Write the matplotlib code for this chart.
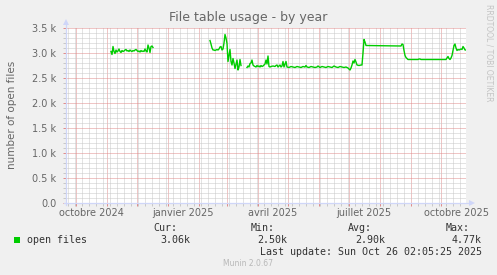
import numpy as np
import pandas as pd
import matplotlib
matplotlib.use("Agg")
import matplotlib.pyplot as plt
import matplotlib.dates as mdates
from matplotlib.ticker import MultipleLocator, FuncFormatter
from matplotlib.patches import Rectangle

# ---------------- data ----------------
start_date = "2024-09-21"
end_date = "2025-10-26"

# day offsets from start_date and open-file counts (thousands); NaN = no data
day_offsets = [
    45, 46, 47, 48, 49, 50, 51, 52, 53, 54, 55, 56, 57, 58, 59, 60, 61, 62, 63, 64,
    65, 66, 67, 68, 69, 70, 71, 72, 73, 74, 75, 76, 77, 78, 79, 80, 81, 82, 83, 84,
    85, 86, 87,
    100,
    144, 145, 146, 147, 148, 149, 150, 151, 152, 153, 154, 155, 156, 157, 158, 159,
    160, 161, 162, 163, 164, 165, 166, 167, 168, 169, 170, 171, 172, 173, 174, 175,
    178,
    181, 182, 183, 184, 185, 186, 187, 188, 189, 190, 191, 192, 193, 194, 195, 196,
    197, 198, 199, 200, 201, 202, 203, 204, 205, 207, 209, 210, 211, 212, 213, 214,
    215, 216, 217, 218, 219, 220, 221, 223, 225, 227, 229, 231, 233, 235, 237, 239,
    240, 241, 243, 245, 247, 249, 251, 252, 254, 256, 258, 260, 262, 264, 266, 268,
    270, 272, 274, 276, 278, 280, 281, 282, 283, 284, 285, 286, 287, 288, 289, 290,
    291, 293, 295, 296, 297, 298, 299, 300, 335, 336, 337, 338, 339, 340, 341, 342,
    352, 353, 354, 355, 356, 380, 381, 382, 383, 384, 385, 386, 387, 388, 389, 390,
    391, 392, 393, 394, 395, 396, 397, 398, 399, 400,
]
open_files_k = [
    3.03, 2.97, 3.13, 3.03, 2.99, 3.06, 3.02, 3.04, 3.08, 3.03, 3.01, 3.05, 3.03, 3.04, 3.06, 3.07, 3.04, 3.05, 3.03, 3.06,
    3.04, 3.03, 3.05, 3.04, 3.06, 3.07, 3.05, 3.03, 3.04, 3.02, 3.05, 3.03, 3.04, 3.03, 3.08, 3.04, 3.02, 3.16, 3.10, 3.01,
    3.13, 3.14, 3.11,
    np.nan,
    3.25, 3.18, 3.10, 3.06, 3.06, 3.05, 3.06, 3.07, 3.06, 3.08, 3.12, 3.13, 3.06, 3.08, 3.20, 3.37,
    3.30, 3.19, 2.83, 2.95, 3.07, 2.83, 2.76, 2.89, 2.80, 2.69, 2.78, 2.86, 2.66, 2.72, 2.87, 2.75,
    np.nan,
    2.71, 2.74, 2.72, 2.79, 2.80, 2.86, 2.76, 2.74, 2.73, 2.72, 2.75, 2.73, 2.74, 2.72, 2.75, 2.73,
    2.74, 2.76, 2.78, 2.86, 2.78, 2.94, 2.73, 2.72, 2.73, 2.74, 2.73, 2.75, 2.76, 2.72, 2.74, 2.76,
    2.72, 2.74, 2.83, 2.72, 2.78, 2.83, 2.72, 2.71, 2.73, 2.72, 2.71, 2.73, 2.72, 2.71, 2.73, 2.72,
    2.75, 2.72, 2.71, 2.73, 2.72, 2.71, 2.72, 2.74, 2.71, 2.73, 2.72, 2.71, 2.73, 2.72, 2.71, 2.74,
    2.72, 2.71, 2.73, 2.72, 2.71, 2.72, 2.71, 2.70, 2.68, 2.66, 2.70, 2.76, 2.84, 2.80, 2.87, 2.82,
    2.76, 2.75, 2.76, 2.76, 3.00, 3.27, 3.22, 3.15, 3.14, 3.18, 3.17, 3.05, 2.95, 2.91, 2.89, 2.87,
    2.87, 2.88, 2.88, 2.87, 2.87, 2.87, 2.90, 2.93, 2.89, 2.87, 2.90, 2.95, 3.05, 3.15, 3.18, 3.10,
    3.05, 3.07, 3.06, 3.07, 3.08, 3.07, 3.13, 3.10, 3.06, 3.06,
]

x_label_dates = ["2024-10-16", "2025-01-16", "2025-04-16", "2025-07-16", "2025-10-16"]
x_label_texts = ["octobre 2024", "janvier 2025", "avril 2025", "juillet 2025", "octobre 2025"]

y_max = 3500
series_name = "open files"
stat_names = ["Cur:", "Min:", "Avg:", "Max:"]
stat_values = ["3.06k", "2.50k", "2.90k", "4.77k"]
last_update = "Last update: Sun Oct 26 02:05:25 2025"

title = "File table usage - by year"
y_label = "number of open files"

# ---------------- style ----------------
W, H = 497, 275
BACK = "#F0F0F0"
CANVAS = "#FFFFFF"
FONT = "#666666"
AXIS = "#CFD6F8"
MGRID = "#E08C8C"
GRID = "#C8C8C8"
LINE = "#00CC00"
SANS = "DejaVu Sans"
MONO = "DejaVu Sans Mono"


def fx(px):
    return px / W


def fy(py):
    return 1 - py / H


fig = plt.figure(figsize=(W / 100, H / 100), dpi=100, facecolor=BACK)
left, right, top, bottom = 66, 466, 28, 203
ax = fig.add_axes([fx(left), fy(bottom), (right - left) / W, (bottom - top) / H])
ax.set_facecolor(CANVAS)

dates = pd.Timestamp(start_date) + pd.to_timedelta(day_offsets, unit="D")
values = np.array(open_files_k) * 1000

ax.set_xlim(pd.Timestamp(start_date), pd.Timestamp(end_date))
ax.set_ylim(0, y_max)

# grid
ax.xaxis.set_major_locator(mdates.MonthLocator())
ax.xaxis.set_minor_locator(mdates.WeekdayLocator(byweekday=mdates.MO))
ax.xaxis.set_major_formatter(plt.NullFormatter())
ax.yaxis.set_major_locator(MultipleLocator(500))
ax.yaxis.set_minor_locator(MultipleLocator(100))
ax.yaxis.set_major_formatter(
    FuncFormatter(lambda v, p: "0.0" if v == 0 else f"{v / 1000:.1f} k"))

ax.grid(which="minor", color=GRID, linestyle=(0, (1, 1)), linewidth=0.72)
ax.grid(which="major", color=MGRID, linestyle=(0, (1, 1)), linewidth=0.72)
ax.set_axisbelow(True)

ax.tick_params(which="major", length=2, width=0.72, color=MGRID, direction="out",
               labelsize=7, labelcolor=FONT, pad=2)
ax.tick_params(which="minor", length=2, width=0.72, color=GRID, direction="out")
ax.tick_params(axis="y", which="major", pad=5)
for lbl in ax.get_yticklabels():
    lbl.set_family(SANS)

for s in ax.spines.values():
    s.set_visible(False)

# x labels at mid-month
for d, t in zip(x_label_dates, x_label_texts):
    ax.text(pd.Timestamp(d), -0.03, t, transform=ax.get_xaxis_transform(),
            ha="center", va="top", fontsize=7, color=FONT, family=SANS)

# data line
ax.plot(dates, values, color=LINE, linewidth=1.0, zorder=5)

# axes lines with arrows
ax.plot([0, 0], [-0.01, 1.03], transform=ax.transAxes, color=AXIS, lw=0.9,
        clip_on=False, zorder=6)
ax.plot([-0.005, 1.012], [0, 0], transform=ax.transAxes, color=AXIS, lw=0.9,
        clip_on=False, zorder=6)
ax.plot([0], [1.035], transform=ax.transAxes, marker="^", ms=4, color=AXIS,
        clip_on=False, zorder=6, markeredgewidth=0)
ax.plot([1.015], [0], transform=ax.transAxes, marker=">", ms=4, color=AXIS,
        clip_on=False, zorder=6, markeredgewidth=0)

# texts
fig.text(fx(248.5), fy(18), title, ha="center", va="center", fontsize=9,
         color=FONT, family=SANS)
fig.text(fx(12), fy(115), y_label, ha="center", va="center", rotation=90,
         fontsize=7.5, color=FONT, family=SANS)
fig.text(fx(488.5), fy(53), "RRDTOOL / TOBI OETIKER", ha="center", va="center",
         rotation=270, fontsize=5.5, color="#C4C4C4", family=SANS)

# legend
fig.patches.append(Rectangle((fx(14), fy(243)), 6 / W, 6 / H, transform=fig.transFigure,
                             facecolor=LINE, edgecolor="none"))
fig.text(fx(27), fy(240), series_name, ha="left", va="center", fontsize=7.2,
         color="#333333", family=MONO)
stat_name_right = [177, 275, 372, 470]
stat_val_right = [190, 287, 385, 482]
for n, v, xr, xv in zip(stat_names, stat_values, stat_name_right, stat_val_right):
    fig.text(fx(xr), fy(228), n, ha="right", va="center", fontsize=7.2,
             color="#333333", family=MONO)
    fig.text(fx(xv), fy(240), v, ha="right", va="center", fontsize=7.2,
             color="#333333", family=MONO)
fig.text(fx(482), fy(252), last_update, ha="right", va="center", fontsize=7.2,
         color="#333333", family=MONO)
fig.text(fx(248), fy(264), "Munin 2.0.67", ha="center", va="center", fontsize=5.5,
         color="#B8B8B8", family=SANS)

fig.savefig("out.png", dpi=100, facecolor=BACK)
